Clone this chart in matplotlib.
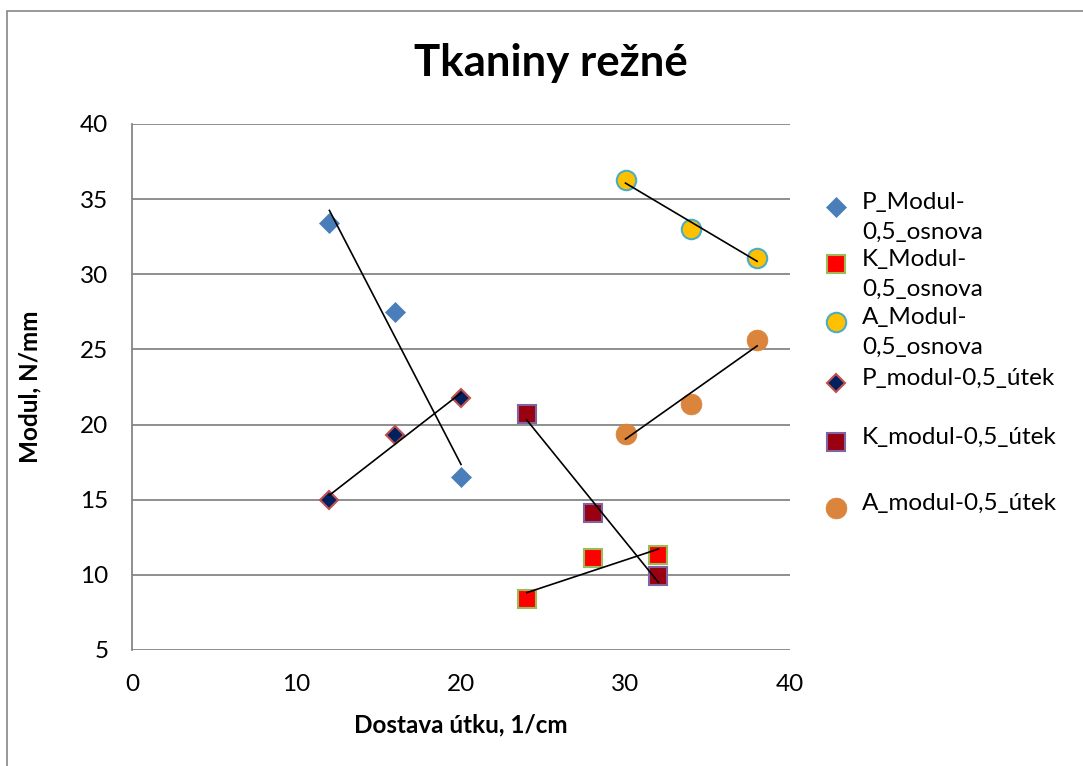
import numpy as np
import matplotlib
matplotlib.use("Agg")
import matplotlib.pyplot as plt
from matplotlib.patches import Rectangle
from matplotlib.lines import Line2D

plt.rcParams['font.family'] = ['Lato', 'DejaVu Sans']

# data
x_p = [12, 16, 20]
x_k = [24, 28, 32]
x_a = [30, 34, 38]
p_osnova = [33.4, 27.5, 16.5]
k_osnova = [8.4, 11.1, 11.3]
a_osnova = [36.3, 33.0, 31.1]
p_utek = [15.0, 19.3, 21.8]
k_utek = [20.7, 14.1, 9.9]
a_utek = [19.4, 21.4, 25.6]

labels = ["P_Modul-\n0,5_osnova", "K_Modul-\n0,5_osnova", "A_Modul-\n0,5_osnova",
          "P_modul-0,5_útek", "K_modul-0,5_útek", "A_modul-0,5_útek"]
xticks = [0, 10, 20, 30, 40]
yticks = [5, 10, 15, 20, 25, 30, 35, 40]

# (x, y, marker, size, face, edge, edgewidth)
series = [
    (x_p, p_osnova, 'D', 10.5, '#4A7EBB', '#4A7EBB', 0.5),
    (x_k, k_osnova, 's', 13, '#FF0000', '#9BBB59', 1.5),
    (x_a, a_osnova, 'o', 14, '#FFC000', '#4BACC6', 1.5),
    (x_p, p_utek, 'D', 9.5, '#002060', '#C0504D', 1.5),
    (x_k, k_utek, 's', 13.5, '#990012', '#8064A2', 1.5),
    (x_a, a_utek, 'o', 15, '#DA843C', '#DA843C', 0.5),
]

fig = plt.figure(figsize=(10.83, 7.66), dpi=100)
ax = fig.add_axes([132 / 1083, 1 - 650 / 766, (790 - 132) / 1083, (650 - 124) / 766])

# chart border
fig.patches.append(Rectangle((7 / 1083, -0.1), 1.2, 1 - 11 / 766 + 0.1,
                             transform=fig.transFigure, fill=False,
                             edgecolor='#868686', linewidth=1.2))

for xs, ys, m, ms, fc, ec, ew in series:
    ax.plot(xs, ys, linestyle='none', marker=m, markersize=ms,
            markerfacecolor=fc, markeredgecolor=ec, markeredgewidth=ew, zorder=3)

# linear trendlines
for xs, ys, *_ in series:
    k, q = np.polyfit(xs, ys, 1)
    xx = np.array([xs[0], xs[-1]])
    ax.plot(xx, k * xx + q, color='black', linewidth=1.2, zorder=4)

ax.set_xlim(0, 40)
ax.set_ylim(5, 40)
ax.set_xticks(xticks)
ax.set_yticks(yticks)
ax.grid(axis='y', color='#868686', linewidth=1.3)
ax.set_axisbelow(True)
for s in ['top', 'right', 'bottom']:
    ax.spines[s].set_visible(False)
ax.spines['left'].set_color('#868686')
ax.spines['left'].set_linewidth(1.3)
ax.tick_params(length=0, labelsize=17.5)
ax.tick_params(axis='y', pad=17)
ax.tick_params(axis='x', pad=17)

fig.text(551 / 1083, 1 - 63 / 766, "Tkaniny režné", fontsize=31.5,
         fontweight='bold', ha='center', va='center')
fig.text(461 / 1083, 1 - 725 / 766, "Dostava útku, 1/cm", fontsize=17.5,
         fontweight='bold', ha='center', va='center')
fig.text(30 / 1083, 1 - 387 / 766, "Modul, N/mm", fontsize=17.5,
         fontweight='bold', ha='center', va='center', rotation=90)

# legend drawn by hand (wrapped labels, Excel spacing)
leg_y = [207, 264, 322, 383, 442, 508]
for (xs, ys, m, ms, fc, ec, ew), lab, yy in zip(series, labels, leg_y):
    fig.add_artist(Line2D([836 / 1083], [1 - yy / 766], marker=m, markersize=ms,
                          markerfacecolor=fc, markeredgecolor=ec, markeredgewidth=ew,
                          linestyle='none', transform=fig.transFigure))
    fig.text(862 / 1083, 1 - (yy - 15) / 766, lab, fontsize=17.5, ha='left', va='top',
             linespacing=1.5)

fig.savefig("out.png", dpi=100, facecolor='white')
